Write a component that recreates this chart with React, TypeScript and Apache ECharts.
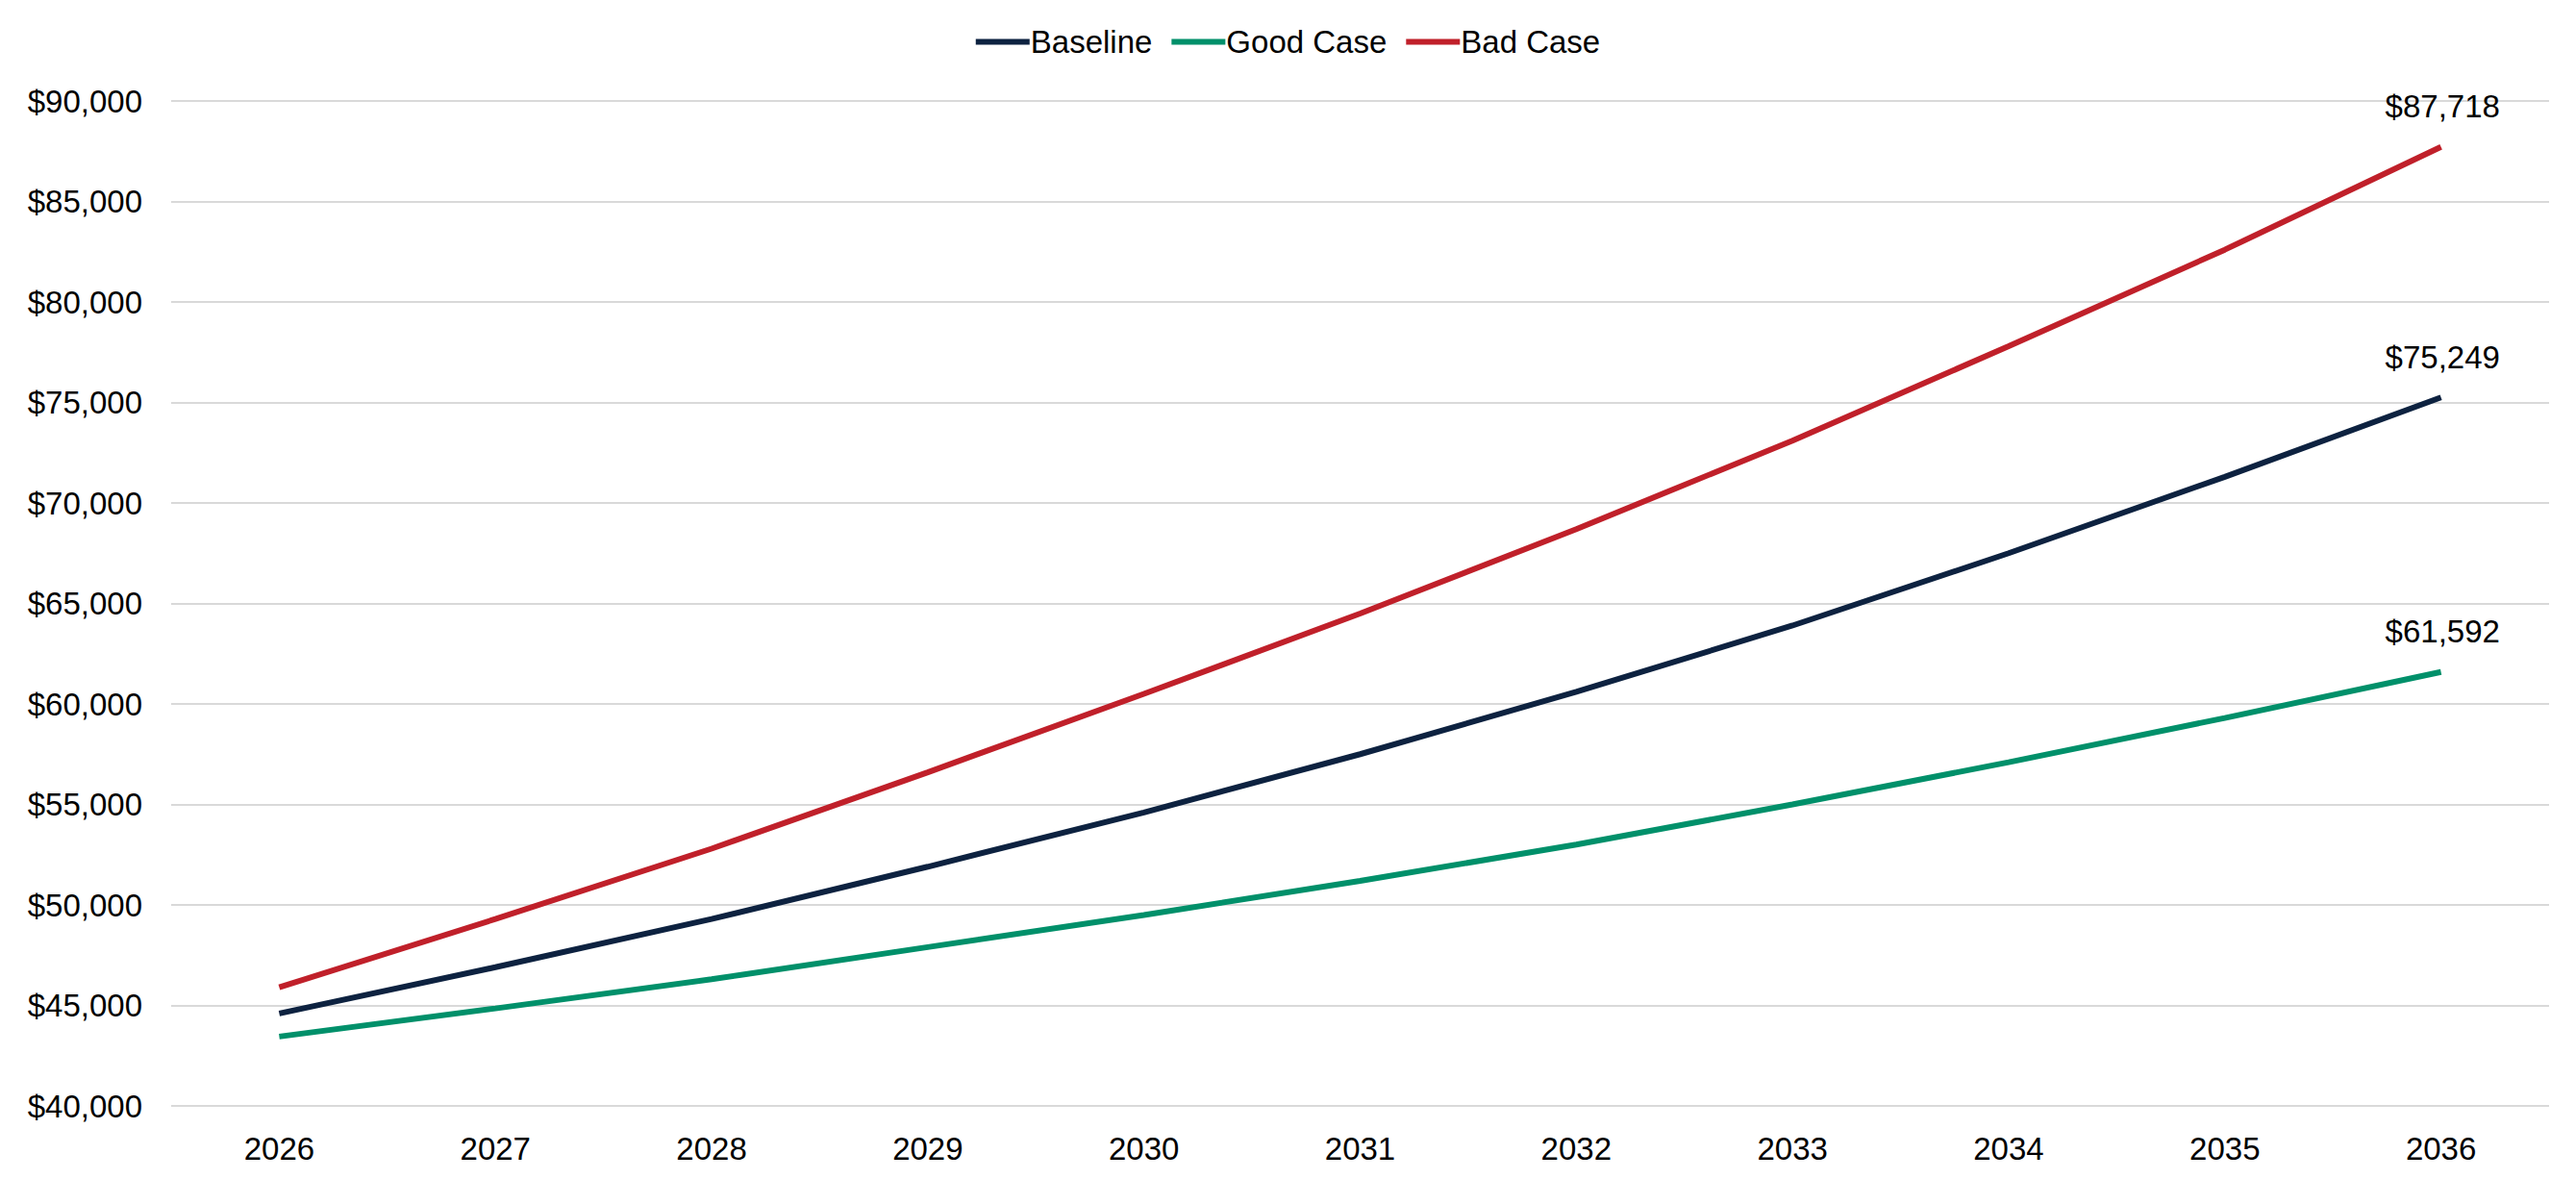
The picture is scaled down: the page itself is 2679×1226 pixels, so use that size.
import { useEffect, useRef } from 'react';
import * as echarts from 'echarts';

const years = ['2026', '2027', '2028', '2029', '2030', '2031', '2032', '2033', '2034', '2035', '2036'];
const baseline = [44600, 46900, 49300, 51900, 54600, 57500, 60600, 63900, 67500, 71300, 75249];
const goodCase = [43450, 44850, 46300, 47900, 49500, 51200, 53000, 55000, 57100, 59300, 61592];
const badCase = [45900, 49300, 52800, 56600, 60500, 64500, 68700, 73100, 77800, 82600, 87718];

const fmt = (v: number) => '$' + Math.round(v).toLocaleString('en-US');

export default function App() {
  const chartRef = useRef<HTMLDivElement>(null);

  useEffect(() => {
    document.body.style.margin = '0';
    if (!chartRef.current) return;
    const chart = echarts.init(chartRef.current, null, { renderer: 'svg' });
    const font = 'Liberation Sans, Arial, sans-serif';
    const mk = (name: string, data: number[], color: string) => ({
      name,
      type: 'line',
      data,
      symbol: 'none',
      lineStyle: { color, width: 6 },
      itemStyle: { color },
      endLabel: {
        show: true,
        formatter: (p: any) => fmt(p.value),
        offset: [-66, -42],
        color: '#000',
        fontSize: 33,
        fontFamily: font,
      },
    });
    chart.setOption({
      animation: false,
      textStyle: { fontFamily: font },
      legend: {
        top: 22,
        left: 'center',
        icon: 'rect',
        itemWidth: 56,
        itemHeight: 6,
        itemGap: 20,
        textStyle: { fontSize: 33, color: '#000', padding: [0, 0, 0, -4] },
        data: ['Baseline', 'Good Case', 'Bad Case'],
      },
      grid: { left: 178, right: 28, top: 105, bottom: 76, containLabel: false },
      xAxis: {
        type: 'category',
        data: years,
        axisLine: { show: false },
        axisTick: { show: false },
        axisLabel: { fontSize: 33, color: '#000', margin: 28 },
      },
      yAxis: {
        type: 'value',
        min: 40000,
        max: 90000,
        interval: 5000,
        axisLabel: { fontSize: 33, color: '#000', formatter: fmt, margin: 30 },
        splitLine: { lineStyle: { color: '#d9d9d9', width: 2 } },
      },
      series: [
        mk('Baseline', baseline, '#0d2240'),
        mk('Good Case', goodCase, '#00906a'),
        mk('Bad Case', badCase, '#c0202a'),
      ],
    });
    return () => chart.dispose();
  }, []);

  return <div ref={chartRef} style={{ width: 2679, height: 1226 }} />;
}
